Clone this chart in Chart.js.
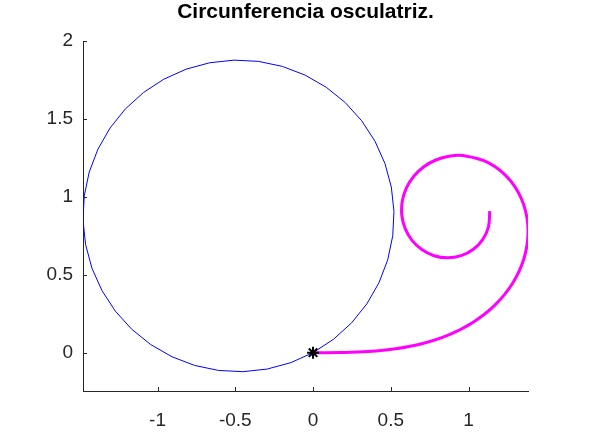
<!DOCTYPE html>
<html>
<head>
<meta charset="utf-8">
<title>Circunferencia osculatriz.</title>
<script src="https://cdn.jsdelivr.net/npm/chart.js@4.4.1/dist/chart.umd.min.js"></script>
<style>
  body { margin: 0; background: #fff; }
  #contenedor { width: 591px; height: 439px; }
</style>
</head>
<body>
<div id="contenedor"><canvas id="grafica" width="591" height="439"></canvas></div>
<script>
const titulo = 'Circunferencia osculatriz.';

// ticks de los ejes
const xTicks = [-1, -0.5, 0, 0.5, 1];
const yTicks = [0, 0.5, 1, 1.5, 2];

// circunferencia (azul)
const circX = [0, 0.1314, 0.2478, 0.3462, 0.4243, 0.4802, 0.5124, 0.5202, 0.5034, 0.4624,
  0.3982, 0.3124, 0.2071, 0.0849, -0.0513, -0.1979, -0.3515, -0.5082, -0.6642, -0.8157,
  -0.9589, -1.0902, -1.2066, -1.3050, -1.3831, -1.4390, -1.4712, -1.4790, -1.4622, -1.4212,
  -1.3570, -1.2712, -1.1659, -1.0437, -0.9075, -0.7609, -0.6073, -0.4506, -0.2946, -0.1431, 0];
const circY = [0, 0.0858, 0.1911, 0.3133, 0.4494, 0.5961, 0.7497, 0.9064, 1.0624, 1.2139,
  1.3571, 1.4884, 1.6048, 1.7032, 1.7813, 1.8372, 1.8694, 1.8772, 1.8604, 1.8194,
  1.7552, 1.6694, 1.5641, 1.4419, 1.3057, 1.1591, 1.0055, 0.8488, 0.6928, 0.5413,
  0.3981, 0.2668, 0.1504, 0.0520, -0.0261, -0.0820, -0.1142, -0.1220, -0.1052, -0.0642, 0];

// espiral (magenta)
const espX = [0, 0.1771, 0.3543, 0.5307, 0.7046, 0.8726, 1.0300, 1.1693, 1.2811, 1.3556,
  1.3823, 1.3538, 1.2680, 1.1319, 0.9626, 0.8744, 0.7893, 0.7122, 0.6478, 0.6005,
  0.5739, 0.5704, 0.5913, 0.6349, 0.6991, 0.7780, 0.8653, 0.9525, 1.0309, 1.0917,
  1.1278, 1.1353, 1.1339];
const espY = [0, 0.0009, 0.0074, 0.0250, 0.0592, 0.1147, 0.1959, 0.3050, 0.4419, 0.6023,
  0.7769, 0.9509, 1.1049, 1.2164, 1.2646, 1.2604, 1.2363, 1.1931, 1.1324, 1.0579,
  0.9734, 0.8851, 0.7992, 0.7225, 0.6617, 0.6222, 0.6087, 0.6224, 0.6634, 0.7271,
  0.8077, 0.8962, 0.9082];

// punto de contacto
const puntoX = [0];
const puntoY = [0];

function pares(xs, ys) {
  return xs.map((x, i) => ({ x: x, y: ys[i] }));
}

// marcas de los ticks hacia dentro
const ticksDentro = {
  id: 'ticksDentro',
  afterDraw(chart) {
    const ctx = chart.ctx;
    const a = chart.chartArea;
    const sx = chart.scales.x;
    const sy = chart.scales.y;
    ctx.save();
    ctx.strokeStyle = '#262626';
    ctx.lineWidth = 1;
    ctx.beginPath();
    xTicks.forEach(v => {
      const px = Math.round(sx.getPixelForValue(v)) + 0.5;
      ctx.moveTo(px, a.bottom);
      ctx.lineTo(px, a.bottom - 4);
    });
    yTicks.forEach(v => {
      const py = Math.round(sy.getPixelForValue(v)) + 0.5;
      ctx.moveTo(a.left, py);
      ctx.lineTo(a.left + 4, py);
    });
    ctx.stroke();
    ctx.restore();
  }
};

const fuente = 'Liberation Sans, Arial, Helvetica, sans-serif';

const data = {
  datasets: [
    {
      label: 'punto',
      data: pares(puntoX, puntoY),
      showLine: false,
      pointStyle: 'star',
      pointRadius: 6,
      borderColor: '#000000',
      backgroundColor: '#000000',
      pointBorderWidth: 2,
      order: 0
    },
    {
      label: 'espiral',
      data: pares(espX, espY),
      showLine: true,
      borderColor: '#ff00ff',
      borderWidth: 3,
      pointRadius: 0,
      tension: 0.4,
      order: 1
    },
    {
      label: 'circunferencia',
      data: pares(circX, circY),
      showLine: true,
      borderColor: '#0000ff',
      borderWidth: 1,
      pointRadius: 0,
      tension: 0,
      order: 2
    }
  ]
};

const config = {
  type: 'scatter',
  data: data,
  options: {
    responsive: false,
    devicePixelRatio: 1,
    animation: false,
    layout: { padding: { left: 20, right: 0, top: 0, bottom: 0 } },
    plugins: {
      legend: { display: false },
      tooltip: { enabled: false },
      title: {
        display: true,
        text: titulo,
        color: '#000000',
        font: { family: fuente, size: 21, weight: 'bold', lineHeight: 1 },
        padding: { top: 2, bottom: 18 }
      }
    },
    scales: {
      x: {
        type: 'linear',
        min: -1.479,
        max: 1.382,
        afterBuildTicks: s => { s.ticks = xTicks.map(v => ({ value: v })); },
        afterFit: s => { s.height = 48; },
        grid: { display: false, drawTicks: false },
        border: { display: true, color: '#262626', width: 1 },
        ticks: {
          padding: 18,
          color: '#262626',
          autoSkip: false,
          maxRotation: 0,
          font: { family: fuente, size: 19 },
          callback: v => String(v)
        }
      },
      y: {
        type: 'linear',
        min: -0.246,
        max: 2,
        afterBuildTicks: s => { s.ticks = yTicks.map(v => ({ value: v })); },
        afterFit: s => { s.width = 63; },
        grid: { display: false, drawTicks: false },
        border: { display: true, color: '#262626', width: 1 },
        ticks: {
          padding: 10,
          color: '#262626',
          autoSkip: false,
          font: { family: fuente, size: 19 },
          callback: v => String(v)
        }
      },
      // eje vacio a la derecha para centrar el titulo sobre el area
      y2: {
        type: 'linear',
        position: 'right',
        min: 0,
        max: 1,
        afterFit: s => { s.width = 63; },
        grid: { display: false, drawTicks: false },
        border: { display: false },
        ticks: { display: false }
      }
    }
  },
  plugins: [ticksDentro]
};

new Chart(document.getElementById('grafica'), config);
</script>
</body>
</html>
